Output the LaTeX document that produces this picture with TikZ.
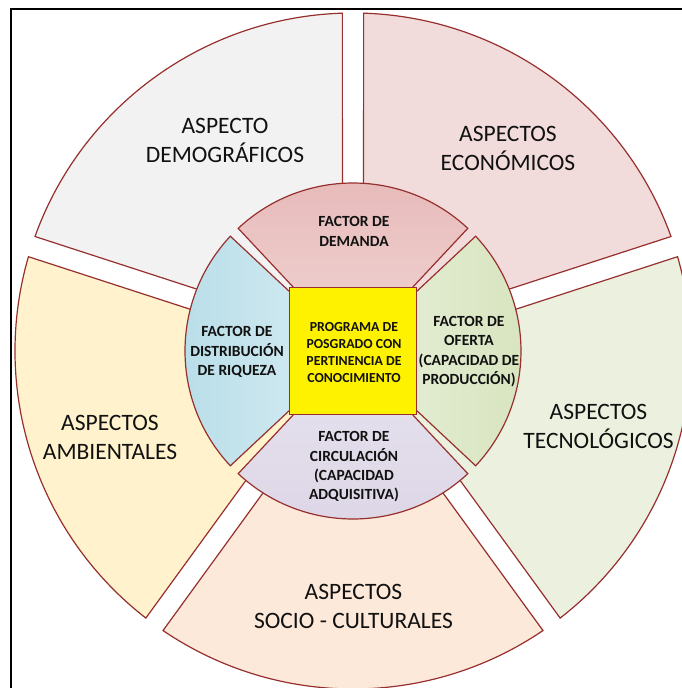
\documentclass[tikz,border=0pt]{standalone}
\usepackage{fontspec}
\setmainfont{Carlito}
\definecolor{brd}{HTML}{962F2D}
\definecolor{txt}{HTML}{111111}
\definecolor{cdemo}{HTML}{F2F2F2}
\definecolor{camb}{HTML}{FFF2CC}
\definecolor{csoc}{HTML}{FDE9D9}
\definecolor{ctec}{HTML}{EBF1DE}
\definecolor{ceco}{HTML}{F2DCDB}
\definecolor{demA}{HTML}{E6B9B8}
\definecolor{demB}{HTML}{F1D6D5}
\definecolor{disA}{HTML}{B7DDE8}
\definecolor{disB}{HTML}{D8EDF3}
\definecolor{ofeA}{HTML}{D7E4BD}
\definecolor{ofeB}{HTML}{E7EFDA}
\definecolor{cirA}{HTML}{DCD5E6}
\definecolor{cirB}{HTML}{E8E4EF}
\begin{document}
\begin{tikzpicture}[x=1pt,y=1pt,
  rim/.style={draw=brd, line width=1.2pt, line join=miter},
  outlbl/.style={align=center, font=\fontsize{23.5}{29}\selectfont, text=txt, inner sep=0pt},
  inlbl/.style={align=center, font=\bfseries\fontsize{15.5}{19.3}\selectfont, text=txt, inner sep=0pt},
  sqlbl/.style={align=center, font=\bfseries\fontsize{13.8}{17}\selectfont, text=txt, inner sep=0pt},
]
\useasboundingbox (-353,-337) rectangle (329,351);
% frame
\draw[line width=1.4pt] (-342,-345) -- (-342,342) -- (340,342);
% outer ring
\foreach \a/\col in {90/cdemo,162/camb,234/csoc,306/ctec,18/ceco}{
  \path[rim, fill=\col] (\a+36:18) -- (\a+1.8:338)
     arc[start angle=\a+1.8, end angle=\a+70.2, radius=338] -- cycle;
}
% inner ring
\path[rim, top color=demA, bottom color=demB, shading angle=0]
  (0,0) -- (46.9:168) arc[start angle=46.9, end angle=133.1, radius=168] -- cycle;
\path[rim, top color=disA, bottom color=disB, shading angle=90]
  (0,0) -- (136.9:168) arc[start angle=136.9, end angle=223.1, radius=168] -- cycle;
\path[rim, top color=cirB, bottom color=cirA, shading angle=0]
  (0,0) -- (226.9:168) arc[start angle=226.9, end angle=313.1, radius=168] -- cycle;
\path[rim, top color=ofeA, bottom color=ofeB, shading angle=-90]
  (0,0) -- (-43.1:168) arc[start angle=-43.1, end angle=43.1, radius=168] -- cycle;
% center square
\node[draw=brd, line width=1.7pt, fill=yellow, minimum width=127pt, minimum height=127pt,
      inner sep=0pt] (sq) at (0,0) {};
\node[sqlbl] (sqt) at (1,-1.5) {PROGRAMA DE\\POSGRADO CON\\PERTINENCIA DE\\CONOCIMIENTO};
% inner labels
\node[inlbl] (dem) at (1,119.5) {FACTOR DE\\DEMANDA};
\node[inlbl] (dis) at (-116,-1) {FACTOR DE\\DISTRIBUCIÓN\\DE RIQUEZA};
\node[inlbl] (ofe) at (116,-0.5) {FACTOR DE\\OFERTA\\(CAPACIDAD DE\\PRODUCCIÓN)};
\node[inlbl] (cir) at (1,-116) {FACTOR DE\\CIRCULACIÓN\\(CAPACIDAD\\ADQUISITIVA)};
% outer labels
\node[outlbl] (demo) at (-128,210.5) {ASPECTO\\DEMOGRÁFICOS};
\node[outlbl] (eco) at (155,202.5) {ASPECTOS\\ECONÓMICOS};
\node[outlbl] (tec) at (245.5,-75.5) {ASPECTOS\\TECNOLÓGICOS};
\node[outlbl] (soc) at (0.5,-255.5) {ASPECTOS\\SOCIO - CULTURALES};
\node[outlbl] (amb) at (-243,-86.5) {ASPECTOS\\AMBIENTALES};
\end{tikzpicture}
\end{document}
